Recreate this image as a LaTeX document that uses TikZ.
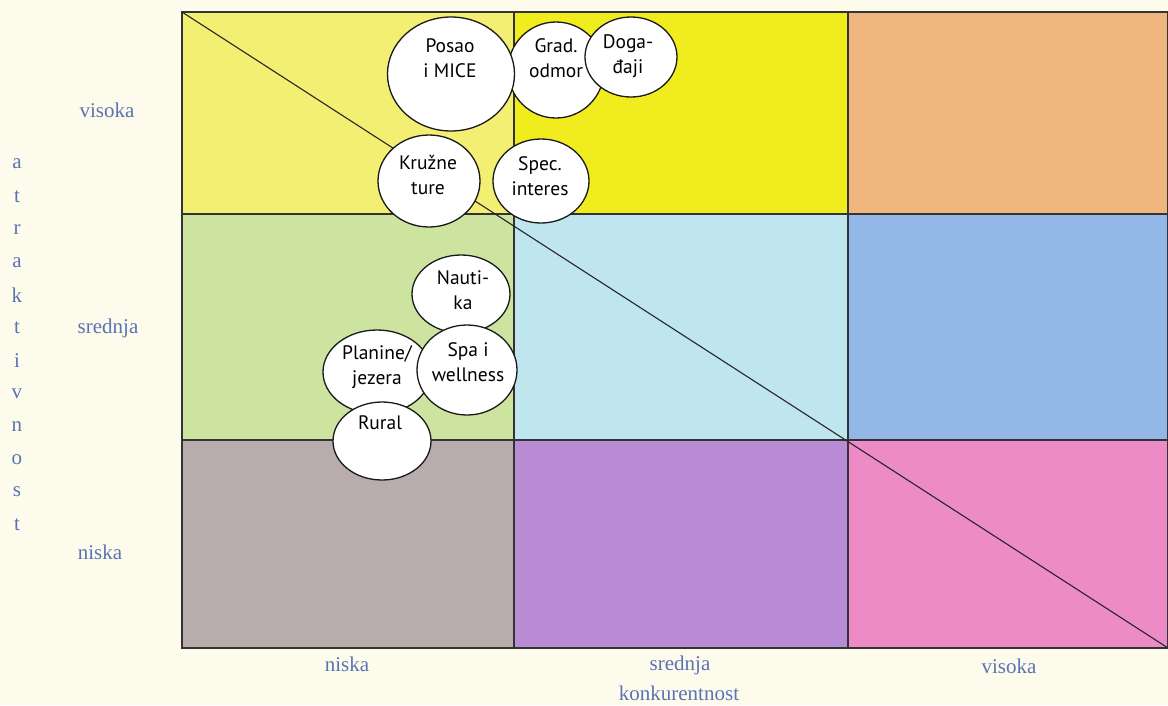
\documentclass[tikz,border=0pt]{standalone}
\usepackage{fontspec}
\setmainfont{Liberation Serif}
\newfontfamily\bubblefont{PT Sans}
\usetikzlibrary{positioning}
\usetikzlibrary{shapes}

\definecolor{paper}{HTML}{FDFCEC}
\definecolor{axisblue}{HTML}{5B73B5}
\definecolor{hiLow}{HTML}{F3EF72}
\definecolor{hiMid}{HTML}{F0EC1E}
\definecolor{hiHigh}{HTML}{EFB67E}
\definecolor{mdLow}{HTML}{CCE4A0}
\definecolor{mdMid}{HTML}{BFE5EE}
\definecolor{mdHigh}{HTML}{93B7E6}
\definecolor{loLow}{HTML}{B9ACAC}
\definecolor{loMid}{HTML}{B98BD5}
\definecolor{loHigh}{HTML}{EC8BC6}

\tikzstyle{grid} = [draw=black!80, line width=1.3pt]
\tikzstyle{bubble} = [ellipse, draw=black!90, fill=white, line width=1.3pt, inner sep=0pt]
\tikzstyle{btext} = [font=\bubblefont\fontsize{19.5}{25}\selectfont, align=center, inner sep=0pt]
\tikzstyle{axlabel} = [font=\fontsize{21}{26}\selectfont, text=axisblue, align=center, inner sep=0pt]

\begin{document}
\begin{tikzpicture}[x=1pt,y=-1pt]
  \useasboundingbox (0,0) rectangle (1168,705);
  \fill[paper] (0,0) rectangle (1168,705);

  \def\xa{182} \def\xb{514} \def\xc{848} \def\xd{1168}
  \def\ya{12}  \def\yb{214} \def\yc{440} \def\yd{648}

  % fields of the matrix
  \fill[hiLow]  (\xa,\ya) rectangle (\xb,\yb);
  \fill[hiMid]  (\xb,\ya) rectangle (\xc,\yb);
  \fill[hiHigh] (\xc,\ya) rectangle (\xd,\yb);
  \fill[mdLow]  (\xa,\yb) rectangle (\xb,\yc);
  \fill[mdMid]  (\xb,\yb) rectangle (\xc,\yc);
  \fill[mdHigh] (\xc,\yb) rectangle (\xd,\yc);
  \fill[loLow]  (\xa,\yc) rectangle (\xb,\yd);
  \fill[loMid]  (\xb,\yc) rectangle (\xc,\yd);
  \fill[loHigh] (\xc,\yc) rectangle (\xd,\yd);

  \draw[grid] (\xa,\ya) rectangle (\xd,\yd);
  \draw[grid] (\xb,\ya) -- (\xb,\yd);
  \draw[grid] (\xc,\ya) -- (\xc,\yd);
  \draw[grid] (\xa,\yb) -- (\xd,\yb);
  \draw[grid] (\xa,\yc) -- (\xd,\yc);

  \coordinate (topleft) at (\xa,\ya);
  \coordinate (botright) at (\xd,\yd);
  \draw[line width=1.1pt, black!85] (topleft) -- (botright);

  % bubbles
  \node[bubble, minimum width=96, minimum height=96] (grad) at (556,70) {};
  \node[bubble, minimum width=127, minimum height=114] (posao) at (451,74) {};
  \node[bubble, minimum width=92, minimum height=80] (dogadjaji) at (631,57) {};
  \node[bubble, minimum width=102, minimum height=92] (kruzne) at (429,181) {};
  \node[bubble, minimum width=96, minimum height=84] (spec) at (541,181) {};
  \node[bubble, minimum width=98, minimum height=78] (nautika) at (461,294) {};
  \node[bubble, minimum width=108, minimum height=84] (planine) at (377,372) {};
  \node[bubble, minimum width=100, minimum height=90] (spa) at (467,370) {};
  \node[bubble, minimum width=98, minimum height=78] (rural) at (382,441) {};

  \node[btext] (gradT) at (556,58) {Grad.\\odmor};
  \node[btext] (posaoT) at (450,58) {Posao\\i MICE};
  \node[btext] (dogadjajiT) at (628,56) {Doga-\\đaji};
  \node[btext] (kruzneT) at (428,175) {Kružne\\ture};
  \node[btext] (specT) at (540,176) {Spec.\\interes};
  \node[btext] (nautikaT) at (463,290) {Nauti-\\ka};
  \node[btext] (planineT) at (377,367) {Planine/\\jezera};
  \node[btext] (spaT) at (468,362) {Spa i\\wellness};
  \node[btext] (ruralT) at (380,423) {Rural};

  % vertical axis
  \node[axlabel] (yHigh) at (107,110) {visoka};
  \node[axlabel] (yMid) at (108,328) {srednja};
  \node[axlabel] (yLow) at (100,552) {niska};
  \def\d{32.8}
  \foreach \ch [count=\i from 0] in {a,t,r,a,k,t,i,v,n,o,s,t}
    \node[axlabel] (ylet\i) at (17,164+\i*\d) {\ch};

  % horizontal axis
  \node[axlabel] (xLow) at (347,664) {niska};
  \node[axlabel] (xMid) at (680,665) {srednja};
  \node[axlabel] (xTitle) at (679,693) {konkurentnost};
  \node[axlabel] (xHigh) at (1009,666) {visoka};
\end{tikzpicture}
\end{document}
